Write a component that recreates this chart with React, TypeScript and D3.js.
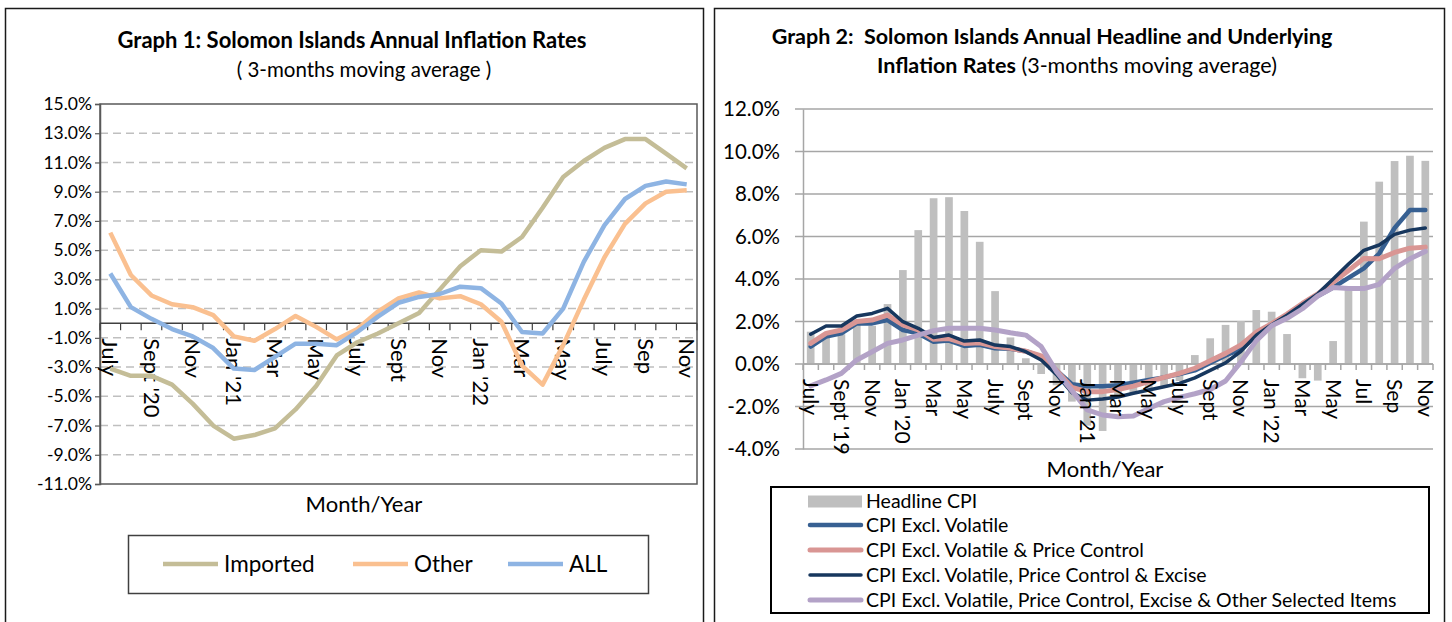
import React, { useEffect, useRef } from 'react';
import * as d3 from 'd3';

// ---- Graph 1 data (Jul 2020 - Nov 2022) ----
const g1Months = [
  'Jul-20', 'Aug-20', 'Sep-20', 'Oct-20', 'Nov-20', 'Dec-20',
  'Jan-21', 'Feb-21', 'Mar-21', 'Apr-21', 'May-21', 'Jun-21', 'Jul-21', 'Aug-21', 'Sep-21', 'Oct-21', 'Nov-21', 'Dec-21',
  'Jan-22', 'Feb-22', 'Mar-22', 'Apr-22', 'May-22', 'Jun-22', 'Jul-22', 'Aug-22', 'Sep-22', 'Oct-22', 'Nov-22',
];
const g1Labels = [
  'July', '', "Sept '20", '', 'Nov', '', "Jan '21", '', 'Mar', '', 'May', '', 'July', '', 'Sept', '', 'Nov', '',
  "Jan '22", '', 'Mar', '', 'May', '', 'July', '', 'Sep', '', 'Nov',
];
const imported = [-3.1, -3.6, -3.6, -4.2, -5.5, -7.0, -7.9, -7.65, -7.2, -5.9, -4.3, -2.2, -1.3, -0.7, 0.0, 0.7, 2.3, 3.9, 5.0, 4.9, 5.9, 7.9, 10.0, 11.1, 12.0, 12.6, 12.6, 11.6, 10.6];
const other = [6.2, 3.3, 1.9, 1.3, 1.1, 0.55, -0.9, -1.2, -0.4, 0.5, -0.25, -1.1, -0.4, 0.8, 1.7, 2.1, 1.7, 1.85, 1.3, 0.1, -2.9, -4.2, -1.5, 1.6, 4.5, 6.8, 8.2, 9.0, 9.1];
const allItems = [3.4, 1.1, 0.3, -0.4, -0.9, -1.7, -3.1, -3.2, -2.3, -1.4, -1.4, -1.5, -0.6, 0.45, 1.4, 1.8, 2.0, 2.5, 2.4, 1.35, -0.6, -0.7, 1.0, 4.2, 6.7, 8.5, 9.4, 9.7, 9.5];
const g1Ticks = [15, 13, 11, 9, 7, 5, 3, 1, -1, -3, -5, -7, -9, -11];

// ---- Graph 2 data (Jul 2019 - Nov 2022) ----
const g2Months = [
  'Jul-19', 'Aug-19', 'Sep-19', 'Oct-19', 'Nov-19', 'Dec-19',
  'Jan-20', 'Feb-20', 'Mar-20', 'Apr-20', 'May-20', 'Jun-20', 'Jul-20', 'Aug-20', 'Sep-20', 'Oct-20', 'Nov-20', 'Dec-20',
  'Jan-21', 'Feb-21', 'Mar-21', 'Apr-21', 'May-21', 'Jun-21', 'Jul-21', 'Aug-21', 'Sep-21', 'Oct-21', 'Nov-21', 'Dec-21',
  'Jan-22', 'Feb-22', 'Mar-22', 'Apr-22', 'May-22', 'Jun-22', 'Jul-22', 'Aug-22', 'Sep-22', 'Oct-22', 'Nov-22',
];
const g2Labels = [
  'July', '', "Sept '19", '', 'Nov', '', "Jan '20", '', 'Mar', '', 'May', '', 'July', '', 'Sept', '', 'Nov', '',
  "Jan '21", '', 'Mar', '', 'May', '', 'July', '', 'Sept', '', 'Nov', '',
  "Jan '22", '', 'Mar', '', 'May', '', 'Jul', '', 'Sep', '', 'Nov',
];
const headline = [1.52, 1.3, 1.4, 1.9, 1.8, 2.82, 4.42, 6.3, 7.8, 7.85, 7.2, 5.75, 3.43, 1.25, 0.27, -0.47, -1.0, -1.77, -2.9, -3.15, -1.6, -1.4, -1.3, -1.1, -0.8, 0.42, 1.21, 1.84, 2.02, 2.54, 2.46, 1.41, -0.67, -0.78, 1.08, 3.56, 6.7, 8.58, 9.55, 9.8, 9.56];
const exVolatile = [0.82, 1.29, 1.44, 1.91, 1.91, 2.07, 1.6, 1.44, 1.05, 1.1, 0.85, 0.9, 0.74, 0.72, 0.6, 0.35, -0.3, -0.95, -1.05, -1.05, -1.0, -0.88, -0.75, -0.63, -0.47, -0.3, 0.05, 0.4, 0.7, 1.35, 1.85, 2.25, 2.7, 3.2, 3.6, 4.05, 4.5, 5.2, 6.4, 7.25, 7.25];
const exVolPC = [0.97, 1.44, 1.6, 2.0, 2.07, 2.3, 1.84, 1.6, 1.16, 1.2, 0.97, 1.0, 0.82, 0.74, 0.6, 0.38, -0.3, -1.1, -1.3, -1.3, -1.2, -1.04, -0.83, -0.63, -0.44, -0.2, 0.15, 0.5, 0.9, 1.5, 1.9, 2.35, 2.85, 3.3, 3.85, 4.4, 4.97, 4.95, 5.25, 5.45, 5.5];
const exVolPCExcise = [1.4, 1.79, 1.79, 2.26, 2.38, 2.62, 1.99, 1.68, 1.25, 1.36, 1.08, 1.13, 0.89, 0.82, 0.58, 0.19, -0.5, -1.35, -1.7, -1.65, -1.55, -1.38, -1.22, -1.07, -0.91, -0.65, -0.3, 0.05, 0.6, 1.35, 1.85, 2.3, 2.8, 3.3, 4.0, 4.7, 5.35, 5.6, 6.1, 6.3, 6.4];
const exAllSelected = [-1.03, -0.75, -0.44, 0.19, 0.58, 0.97, 1.13, 1.36, 1.57, 1.68, 1.68, 1.68, 1.6, 1.47, 1.36, 0.82, -0.36, -1.25, -2.16, -2.4, -2.48, -2.45, -2.09, -1.77, -1.57, -1.4, -1.2, -0.8, 0.1, 1.1, 1.8, 2.15, 2.6, 3.2, 3.6, 3.55, 3.55, 3.75, 4.5, 4.95, 5.3];
const g2Ticks = [12, 10, 8, 6, 4, 2, 0, -2, -4];

const FONT = "Lato, 'Carlito', Calibri, sans-serif";

function App() {
  const svgRef = useRef() as React.RefObject<SVGSVGElement>;

  const drawGraph1 = (svg: d3.Selection<SVGSVGElement, unknown, null, undefined>) => {
    const left = 100, right = 697, top = 104, bottom = 484;
    const g = svg.append('g');

    g.append('rect')
      .attr('x', 5.5).attr('y', 8.5).attr('width', 698).attr('height', 700)
      .attr('fill', 'none').attr('stroke', '#1a1a1a').attr('stroke-width', 1.5);

    g.append('text').attr('x', 352).attr('y', 48).attr('text-anchor', 'middle')
      .attr('font-size', 22).attr('font-weight', 'bold').text('Graph 1: Solomon Islands Annual Inflation Rates');
    g.append('text').attr('x', 364).attr('y', 77).attr('text-anchor', 'middle')
      .attr('font-size', 20.5).text('( 3-months moving average )');

    const x = d3.scaleBand<number>().domain(d3.range(g1Months.length)).range([left, right]);
    const y = d3.scaleLinear().domain([-11, 15]).range([bottom, top]);
    const bw = x.bandwidth();

    // dashed gridlines
    g.selectAll('.grid1')
      .data(g1Ticks.filter(t => t !== 15 && t !== -11))
      .join('line')
      .attr('x1', left).attr('x2', right)
      .attr('y1', d => y(d)).attr('y2', d => y(d))
      .attr('stroke', '#BFBFBF').attr('stroke-width', 1.5).attr('stroke-dasharray', '8,5');

    g.append('rect')
      .attr('x', left).attr('y', top).attr('width', right - left).attr('height', bottom - top)
      .attr('fill', 'none').attr('stroke', '#595959').attr('stroke-width', 1.5);

    // y axis
    const yAxis = g.append('g').attr('transform', `translate(${left},0)`)
      .call(d3.axisLeft(y).tickValues(g1Ticks).tickFormat(d => (+d).toFixed(1) + '%').tickSize(5).tickPadding(3));
    yAxis.select('.domain').attr('stroke', '#595959').attr('stroke-width', 1.5);
    yAxis.selectAll('.tick line').attr('stroke', '#595959').attr('stroke-width', 1.2);
    yAxis.selectAll('.tick text').attr('font-size', 17.5).attr('font-family', FONT).attr('fill', '#000');

    // x axis at zero
    const y0 = y(0);
    g.append('line').attr('x1', left).attr('x2', right).attr('y1', y0).attr('y2', y0)
      .attr('stroke', '#404040').attr('stroke-width', 1.5);
    g.selectAll('.xt1')
      .data(d3.range(g1Months.length + 1))
      .join('line')
      .attr('x1', d => left + d * bw).attr('x2', d => left + d * bw)
      .attr('y1', y0).attr('y2', y0 + 7)
      .attr('stroke', '#404040').attr('stroke-width', 1.2);
    g.selectAll('.xl1')
      .data(g1Labels)
      .join('text')
      .attr('transform', (d, i) => `translate(${(x(i) as number) + bw / 2},${y0 + 15}) rotate(90)`)
      .attr('dy', '0.36em')
      .attr('font-size', 22)
      .text(d => d);

    g.append('text').attr('x', 364).attr('y', 512).attr('text-anchor', 'middle')
      .attr('font-size', 22).text('Month/Year');

    const line = d3.line<number>()
      .x((d, i) => (x(i) as number) + bw / 2)
      .y(d => y(d));

    const series = [
      { name: 'Imported', values: imported, color: '#C4BD97' },
      { name: 'Other', values: other, color: '#FAC090' },
      { name: 'ALL', values: allItems, color: '#8EB4E3' },
    ];
    series.forEach(s => {
      g.append('path')
        .attr('d', line(s.values) as string)
        .attr('fill', 'none').attr('stroke', s.color).attr('stroke-width', 4.5)
        .attr('stroke-linejoin', 'round');
    });

    // legend
    g.append('rect').attr('x', 128.5).attr('y', 535.5).attr('width', 520).attr('height', 58)
      .attr('fill', 'none').attr('stroke', '#404040').attr('stroke-width', 1.5);
    const legX = [163, 353, 508];
    series.forEach((s, i) => {
      g.append('line').attr('x1', legX[i]).attr('x2', legX[i] + 55).attr('y1', 564).attr('y2', 564)
        .attr('stroke', s.color).attr('stroke-width', 4.5);
      g.append('text').attr('x', legX[i] + 61).attr('y', 572).attr('font-size', 22.5).text(s.name);
    });
  };

  const drawGraph2 = (svg: d3.Selection<SVGSVGElement, unknown, null, undefined>) => {
    const left = 803, right = 1433, top = 109, bottom = 449;
    const g = svg.append('g');

    g.append('rect')
      .attr('x', 714.5).attr('y', 8.5).attr('width', 730).attr('height', 700)
      .attr('fill', 'none').attr('stroke', '#1a1a1a').attr('stroke-width', 1.5);

    g.append('text').attr('x', 1052).attr('y', 44).attr('text-anchor', 'middle')
      .attr('font-size', 21.5).attr('font-weight', 'bold').style('white-space', 'pre')
      .text('Graph 2:  Solomon Islands Annual Headline and Underlying');
    const t2 = g.append('text').attr('x', 1077).attr('y', 73).attr('text-anchor', 'middle').attr('font-size', 21.5);
    t2.append('tspan').attr('font-weight', 'bold').text('Inflation Rates');
    t2.append('tspan').text(' (3-months moving average)');

    const x = d3.scaleBand<number>().domain(d3.range(g2Months.length)).range([left, right]);
    const y = d3.scaleLinear().domain([-4, 12]).range([bottom, top]);
    const bw = x.bandwidth();

    g.selectAll('.grid2')
      .data(g2Ticks)
      .join('line')
      .attr('x1', left - 8).attr('x2', right)
      .attr('y1', d => y(d)).attr('y2', d => y(d))
      .attr('stroke', '#A6A6A6').attr('stroke-width', 1.5);

    const yAxis = g.append('g').attr('transform', `translate(${left},0)`)
      .call(d3.axisLeft(y).tickValues(g2Ticks).tickFormat(d => (+d).toFixed(1) + '%').tickSize(0).tickPadding(23));
    yAxis.select('.domain').attr('stroke', '#A6A6A6').attr('stroke-width', 1.5);
    yAxis.selectAll('.tick text').attr('font-size', 20.5).attr('font-family', FONT).attr('fill', '#000');

    // headline bars
    g.selectAll('.bar')
      .data(headline)
      .join('rect')
      .attr('x', (d, i) => (x(i) as number) + bw * 0.25)
      .attr('width', bw * 0.5)
      .attr('y', d => y(Math.max(0, d)))
      .attr('height', d => Math.abs(y(d) - y(0)))
      .attr('fill', '#BFBFBF');

    const y0 = y(0);
    g.append('line').attr('x1', left).attr('x2', right).attr('y1', y0).attr('y2', y0)
      .attr('stroke', '#A6A6A6').attr('stroke-width', 1.5);
    g.selectAll('.xt2')
      .data(d3.range(g2Months.length + 1))
      .join('line')
      .attr('x1', d => left + d * bw).attr('x2', d => left + d * bw)
      .attr('y1', y0).attr('y2', y0 + 6)
      .attr('stroke', '#A6A6A6').attr('stroke-width', 1.5);

    const line = d3.line<number>()
      .x((d, i) => (x(i) as number) + bw / 2)
      .y(d => y(d));

    const series = [
      { name: 'CPI Excl. Volatile', values: exVolatile, color: '#376092', w: 4.5 },
      { name: 'CPI Excl. Volatile & Price Control', values: exVolPC, color: '#D99694', w: 5 },
      { name: 'CPI Excl. Volatile, Price Control & Excise', values: exVolPCExcise, color: '#17375E', w: 3.5 },
      { name: 'CPI Excl. Volatile, Price Control, Excise & Other Selected Items', values: exAllSelected, color: '#B3A2C7', w: 5 },
    ];
    series.forEach(s => {
      g.append('path')
        .attr('d', line(s.values) as string)
        .attr('fill', 'none').attr('stroke', s.color).attr('stroke-width', s.w)
        .attr('stroke-linejoin', 'round').attr('stroke-linecap', 'round');
    });

    g.selectAll('.xl2')
      .data(g2Labels)
      .join('text')
      .attr('transform', (d, i) => `translate(${(x(i) as number) + bw / 2},${y0 + 15}) rotate(90)`)
      .attr('dy', '0.36em')
      .attr('font-size', 21)
      .text(d => d);

    g.append('text').attr('x', 1105).attr('y', 477).attr('text-anchor', 'middle')
      .attr('font-size', 22).text('Month/Year');

    // legend
    g.append('rect').attr('x', 771).attr('y', 487).attr('width', 658).attr('height', 126)
      .attr('fill', 'none').attr('stroke', '#000').attr('stroke-width', 2);
    const rowY = [501.5, 525, 550, 575, 600];
    g.append('rect').attr('x', 808).attr('y', rowY[0] - 6).attr('width', 54).attr('height', 12).attr('fill', '#BFBFBF');
    g.append('text').attr('x', 866).attr('y', rowY[0] + 6.5).attr('font-size', 19.5).text('Headline CPI');
    series.forEach((s, i) => {
      g.append('line').attr('x1', 810).attr('x2', 861).attr('y1', rowY[i + 1]).attr('y2', rowY[i + 1])
        .attr('stroke', s.color).attr('stroke-width', s.w).attr('stroke-linecap', 'round');
      g.append('text').attr('x', 866).attr('y', rowY[i + 1] + 6.5).attr('font-size', 19.5).text(s.name);
    });
  };

  useEffect(() => {
    const svg = d3.select(svgRef.current as SVGSVGElement);
    svg.selectAll('*').remove();
    svg.attr('font-family', FONT);
    drawGraph1(svg);
    drawGraph2(svg);
  }, []);

  return (
    <div style={{ position: 'absolute', left: 0, top: 0, background: '#fff' }}>
      <svg ref={svgRef} width={1452} height={622} style={{ display: 'block', background: '#fff' }}></svg>
    </div>
  );
}

export default App;
